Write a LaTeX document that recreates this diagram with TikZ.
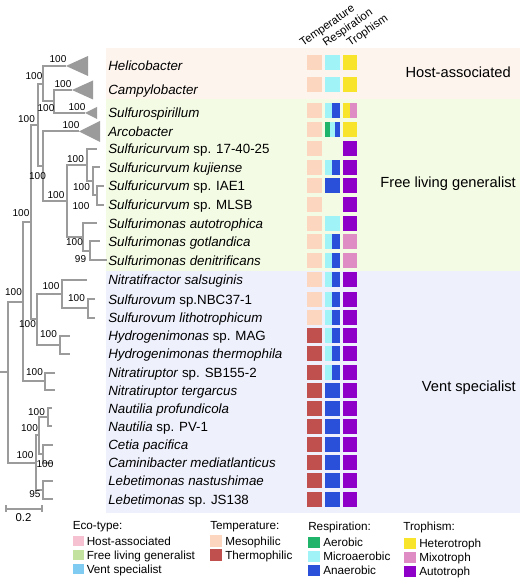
\documentclass[tikz,border=0pt]{standalone}
\usepackage{fontspec}
\setmainfont{Liberation Sans}
\definecolor{treegray}{HTML}{9B9B9B}
\definecolor{bghost}{HTML}{FDF4EE}
\definecolor{bgfree}{HTML}{F3FBE4}
\definecolor{bgvent}{HTML}{EEF0FC}
\definecolor{cmeso}{HTML}{FCD6BF}
\definecolor{cthermo}{HTML}{C0504D}
\definecolor{caerob}{HTML}{1FB46A}
\definecolor{cmicro}{HTML}{A0F4F8}
\definecolor{canaer}{HTML}{2A4FD8}
\definecolor{chetero}{HTML}{F8E42B}
\definecolor{cmixo}{HTML}{DE8CC3}
\definecolor{cautot}{HTML}{8E00C8}
\definecolor{ecohost}{HTML}{F6C1D1}
\definecolor{ecofree}{HTML}{C3E29F}
\definecolor{ecovent}{HTML}{7FCBF1}

\begin{document}
\begin{tikzpicture}[x=0.75pt,y=-0.75pt,
    branch/.style={draw=treegray,line width=1.5pt},
    boot/.style={inner sep=0pt,font=\fontsize{7.5}{8}\selectfont},
    taxon/.style={anchor=base west,inner sep=0pt,font=\fontsize{10}{12}\selectfont},
    group/.style={anchor=base east,inner sep=0pt,font=\fontsize{11}{13}\selectfont},
    colhead/.style={anchor=base west,inner sep=0pt,rotate=35,font=\fontsize{8.5}{10}\selectfont},
    legtext/.style={anchor=base west,inner sep=0pt,font=\fontsize{8.8}{10}\selectfont}]
  \useasboundingbox (0,0) rectangle (520,580);

  % eco-type bands
  \fill[bghost] (106,48) rectangle (520,99.5);
  \fill[bgfree] (106,99.5) rectangle (520,271);
  \fill[bgvent] (106,271) rectangle (520,513);

  % tree nodes
  \coordinate (root0) at (0,372);
  \coordinate (root) at (8,372);
  \coordinate (nB) at (23,301.7);
  \coordinate (nC) at (31,222.1);
  \coordinate (nD) at (38,125.1);
  \coordinate (nHost) at (43,83.75);
  \coordinate (nCS) at (54,101.5);
  \coordinate (nArc) at (43,166.4);
  \coordinate (nSS) at (67,201.25);
  \coordinate (nSk) at (87,165.25);
  \coordinate (nSk1) at (93,181.5);
  \coordinate (nSk2) at (97,195.5);
  \coordinate (nSm) at (83,237.25);
  \coordinate (nSm2) at (90,251);
  \coordinate (nE) at (37,319.2);
  \coordinate (nF) at (62,293.9);
  \coordinate (nSo) at (88,308.25);
  \coordinate (nHy) at (60,344.5);
  \coordinate (nNr) at (45,381.25);
  \coordinate (nG) at (36,462.5);
  \coordinate (nH) at (39,435.25);
  \coordinate (nNa) at (48,417);
  \coordinate (nCC) at (43,453.5);
  \coordinate (nLe) at (43,489.75);

  % leaves
  \coordinate (lHeli) at (66,66);
  \coordinate (lCampy) at (72,90);
  \coordinate (lSpir) at (85,113);
  \coordinate (lArco) at (79,131.5);
  \foreach \n/\x/\y in {5/97/149,6/100/167.5,7/104/186,8/104/205,9/97/223.5,10/100/241.5,
      11/107/260.5,12/87/279.5,13/95/299,14/95/317.5,15/70/335.5,16/70/353.5,17/55/372.5,
      18/55/390,19/52/408,20/52/426,21/53/444.5,22/53/462.5,23/53/480.5,24/53/499}
    \coordinate (l\n) at (\x,\y);

  \draw[branch] (root0) -- (root);
  \foreach \p/\c in {root/nB,root/nG,nB/nC,nB/nNr,nC/nD,nC/nE,nD/nHost,nD/nArc,
      nHost/lHeli,nHost/nCS,nCS/lCampy,nCS/lSpir,nArc/lArco,nArc/nSS,nSS/nSk,nSS/nSm,
      nSk/l5,nSk/nSk1,nSk1/l6,nSk1/nSk2,nSk2/l7,nSk2/l8,nSm/l9,nSm/nSm2,nSm2/l10,nSm2/l11,
      nE/nF,nE/nHy,nF/l12,nF/nSo,nSo/l13,nSo/l14,nHy/l15,nHy/l16,nNr/l17,nNr/l18,
      nG/nH,nG/nLe,nH/nNa,nH/nCC,nNa/l19,nNa/l20,nCC/l21,nCC/l22,nLe/l23,nLe/l24}
    \draw[branch] (\p) |- (\c);

  % collapsed clades
  \foreach \c/\w/\h in {lHeli/22/10,lCampy/21/9.5,lSpir/12/6,lArco/21/10.5}
    \fill[treegray] (\c) -- ++(\w,-\h) -- ++(0,2*\h) -- cycle;

  % bootstrap values
  \foreach \n/\x/\y/\v in {Heli/58/59.5/100,Campy/63/84/100,Spir/77/107/100,Arco/71/125.5/100,
      Host/34/76/100,CS/46/108/100,D/26.5/119/100,Arc/37.5/176/100,SS/56/195/100,
      Sk/75.5/159.5/100,SkA/81.5/187.5/100,SkB/81/206/100,Sm/74.5/242/100,SmA/80.5/259/99,
      C/21/213.5/100,B/13.5/292/100,F/51/286/100,So/76.5/298/100,E/27.5/324/100,
      Hy/48.5/334/100,Nr/34.5/372/100,G/25/455/100,H/29.5/428/100,Na/36.5/412/100,
      CC/45/464/100,Le/35/494/95}
    \node[boot] (b\n) at (\x,\y) {\v};

  % scale bar
  \coordinate (sbL) at (6,508.5);
  \coordinate (sbR) at (41.5,508.5);
  \draw[branch] (sbL) -- (sbR);
  \draw[branch] (sbL) ++(0,-3.5) -- ++(0,7);
  \draw[branch] (sbR) ++(0,-3.5) -- ++(0,7);
  \node[inner sep=0pt,font=\fontsize{8.5}{10}\selectfont] (sbText) at (23.5,517.5) {0.2};

  % taxa
  \foreach \n/\y/\t in {1/71/\textit{Helicobacter},2/95/\textit{Campylobacter},
      3/118/\textit{Sulfurospirillum},4/136.5/\textit{Arcobacter},
      5/154/\textit{Sulfuricurvum} sp. 17-40-25,6/172.5/\textit{Sulfuricurvum kujiense},
      7/191/\textit{Sulfuricurvum} sp. IAE1,8/210/\textit{Sulfuricurvum} sp. MLSB,
      9/228.5/\textit{Sulfurimonas autotrophica},10/246.5/\textit{Sulfurimonas gotlandica},
      11/265.5/\textit{Sulfurimonas denitrificans},12/284.5/\textit{Nitratifractor salsuginis},
      13/304/\textit{Sulfurovum} sp.NBC37-1,14/322.5/\textit{Sulfurovum lithotrophicum},
      15/340.5/\textit{Hydrogenimonas} sp. MAG,16/358.5/\textit{Hydrogenimonas thermophila},
      17/377.5/\textit{Nitratiruptor} sp. SB155-2,18/395/\textit{Nitratiruptor tergarcus},
      19/413/\textit{Nautilia profundicola},20/431/\textit{Nautilia} sp. PV-1,
      21/449.5/\textit{Cetia pacifica},22/467.5/\textit{Caminibacter mediatlanticus},
      23/485.5/\textit{Lebetimonas nastushimae},24/504/\textit{Lebetimonas} sp. JS138}
    \node[taxon] (t\n) at (108,\y) {\t};

  % column heads
  \node[colhead] (hTemp) at (303,47) {Temperature};
  \node[colhead] (hResp) at (326,47) {Respiration};
  \node[colhead] (hTroph) at (350,47) {Trophism};

  % temperature
  \foreach \y in {62.5,85,111,129.5,149,167.5,186,205,223.5,241.5,260.5,279.5,299,317.5}
    \fill[cmeso] (307,\y-7.5) rectangle (322,\y+7.5);
  \foreach \y in {335.5,353.5,372.5,390,408,426,444.5,462.5,480.5,499}
    \fill[cthermo] (307,\y-7.5) rectangle (322,\y+7.5);

  % respiration
  \foreach \y in {62.5,85,223.5}
    \fill[cmicro] (325,\y-7.5) rectangle (339.5,\y+7.5);
  \foreach \y in {111,167.5,241.5,260.5,279.5,299,317.5,335.5,353.5,372.5}{
    \fill[cmicro] (325,\y-7.5) rectangle (332,\y+7.5);
    \fill[canaer] (332,\y-7.5) rectangle (339.5,\y+7.5);
  }
  \foreach \y in {186,390,408,426,444.5,462.5,480.5,499}
    \fill[canaer] (325,\y-7.5) rectangle (339.5,\y+7.5);
  \fill[caerob] (325,122) rectangle (330,137);
  \fill[cmicro] (330,122) rectangle (334.5,137);
  \fill[canaer] (334.5,122) rectangle (339.5,137);

  % trophism
  \foreach \y in {62.5,85,129.5}
    \fill[chetero] (342.5,\y-7.5) rectangle (357,\y+7.5);
  \fill[chetero] (342.5,103.5) rectangle (349.5,118.5);
  \fill[cmixo] (349.5,103.5) rectangle (357,118.5);
  \foreach \y in {241.5,260.5}
    \fill[cmixo] (342.5,\y-7.5) rectangle (357,\y+7.5);
  \foreach \y in {149,167.5,186,205,223.5,279.5,299,317.5,335.5,353.5,372.5,390,408,426,444.5,462.5,480.5,499}
    \fill[cautot] (342.5,\y-7.5) rectangle (357,\y+7.5);

  % groups
  \node[group] (gHost) at (511,78) {Host-associated};
  \node[group] (gFree) at (516,188) {Free living generalist};
  \node[group] (gVent) at (516,391) {Vent specialist};

  % legend
  \node[legtext] (kEco) at (72.5,529) {Eco-type:};
  \foreach \n/\c/\y/\t in {1/ecohost/541/Host-associated,2/ecofree/555/Free living generalist,3/ecovent/569/Vent specialist}{
    \fill[\c] (73,\y-5.25) rectangle (84,\y+5.25);
    \node[legtext] (kEco\n) at (86.5,\y+4) {\t};
  }
  \node[legtext] (kTemp) at (210,529) {Temperature:};
  \foreach \n/\c/\y/\t in {1/cmeso/541/Mesophilic,2/cthermo/555/Thermophilic}{
    \fill[\c] (210,\y-5.75) rectangle (221.5,\y+5.75);
    \node[legtext] (kTemp\n) at (225,\y+4) {\t};
  }
  \node[legtext] (kResp) at (308,530) {Respiration:};
  \foreach \n/\c/\y/\t in {1/caerob/542.5/Aerobic,2/cmicro/556.5/Microaerobic,3/canaer/570.5/Anaerobic}{
    \fill[\c] (308,\y-5.75) rectangle (319.5,\y+5.75);
    \node[legtext] (kResp\n) at (323,\y+4) {\t};
  }
  \node[legtext] (kTroph) at (403,530) {Trophism:};
  \foreach \n/\c/\y/\t in {1/chetero/543.5/Heterotroph,2/cmixo/557.5/Mixotroph,3/cautot/571.5/Autotroph}{
    \fill[\c] (404,\y-5.75) rectangle (415.5,\y+5.75);
    \node[legtext] (kTroph\n) at (419,\y+4) {\t};
  }
\end{tikzpicture}
\end{document}
